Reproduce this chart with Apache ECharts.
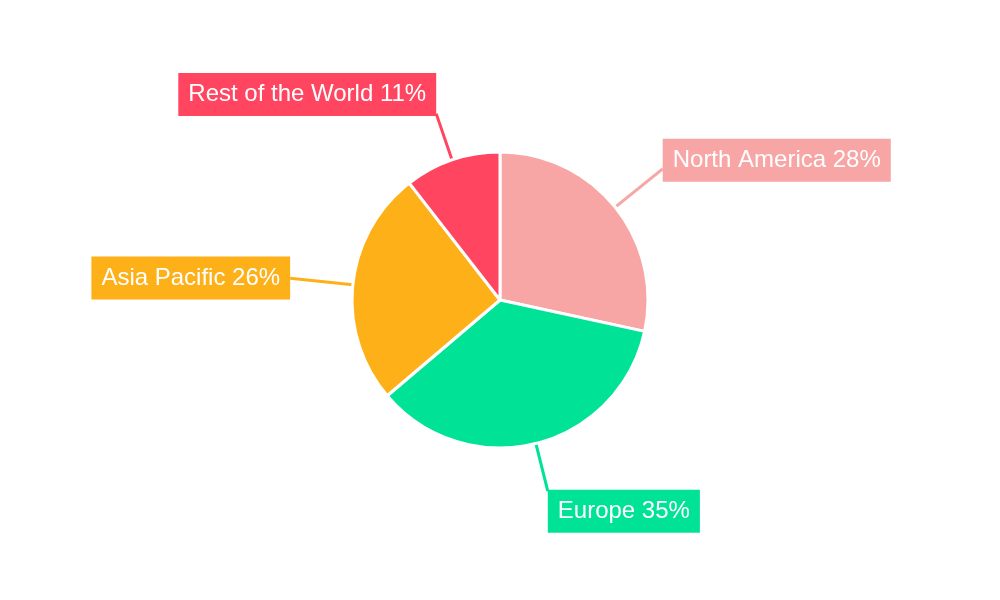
<!DOCTYPE html>
<html>
<head>
<meta charset="utf-8">
<script src="https://cdn.jsdelivr.net/npm/echarts@6/dist/echarts.min.js"></script>
<style>
  html, body { margin: 0; padding: 0; background: #ffffff; }
  #chart { width: 1000px; height: 600px; }
</style>
</head>
<body>
<div id="chart"></div>
<script>
// Regions (clockwise from 12 o'clock)
const regions = ['North America', 'Europe', 'Asia Pacific', 'Rest of the World'];
// Share values (%)
const shares = [28.4, 35.4, 25.7, 10.5];
// Slice colours
const colors = ['#F8A5A6', '#00E396', '#FEB019', '#FF4560'];
// Label line length per slice
const lineLengths = [61, 49, 63, 49];

const chart = echarts.init(document.getElementById('chart'), null, { renderer: 'canvas' });

const data = regions.map((name, i) => ({
  name: name,
  value: shares[i],
  itemStyle: { color: colors[i] },
  label: { backgroundColor: colors[i] },
  labelLine: { length: lineLengths[i], length2: 0, lineStyle: { color: colors[i], width: 3 } }
}));

chart.setOption({
  animation: false,
  backgroundColor: '#ffffff',
  series: [{
    type: 'pie',
    center: ['50%', '50%'],
    radius: 148,
    startAngle: 90,
    clockwise: true,
    avoidLabelOverlap: false,
    itemStyle: { borderColor: '#ffffff', borderWidth: 3 },
    label: {
      show: true,
      position: 'outside',
      alignTo: 'none',
      color: '#ffffff',
      fontFamily: 'Liberation Sans, Arial, sans-serif',
      fontSize: 24,
      lineHeight: 25,
      padding: [9, 10],
      formatter: function (p) { return p.name + ' ' + Math.round(p.value) + '%'; }
    },
    labelLine: { show: true, smooth: false },
    labelLayout: function (p) {
      const pts = p.labelLinePoints;
      if (!pts || pts.length < 2) return {};
      const a = pts[0], b = pts[pts.length - 1];
      const dx = b[0] - a[0], dy = b[1] - a[1];
      const len = Math.hypot(dx, dy) || 1;
      const dyn = dy / len;
      const h = p.labelRect.height;
      return {
        x: b[0],
        y: b[1] + dyn * Math.abs(dyn) * h / 2,
        align: dx >= 0 ? 'left' : 'right',
        verticalAlign: 'middle',
        labelLinePoints: pts
      };
    },
    emphasis: { disabled: true },
    data: data
  }]
});
</script>
</body>
</html>
